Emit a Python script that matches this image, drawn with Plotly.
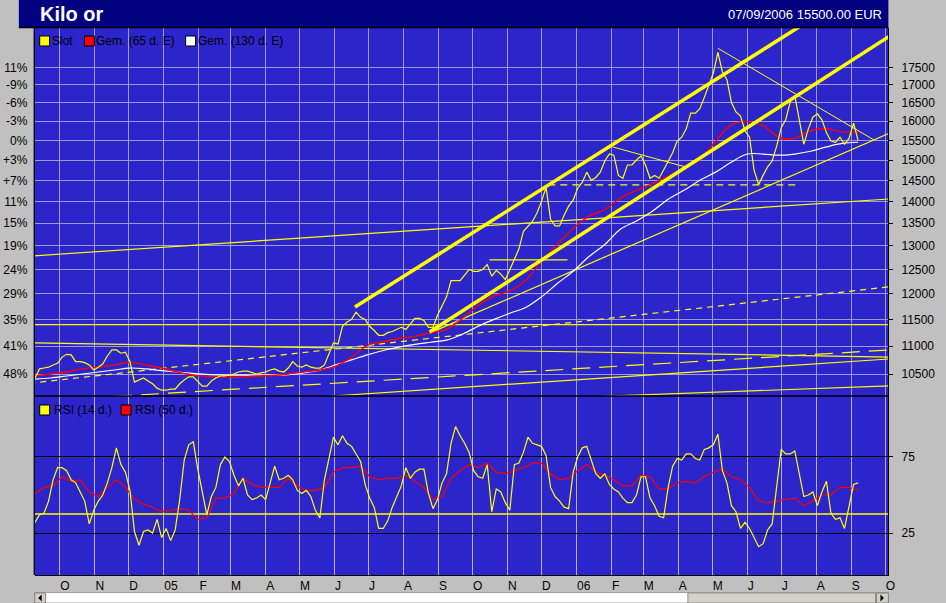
import numpy as np
import pandas as pd
import plotly.graph_objects as go

W, H = 946, 603

# ---------------- data ----------------
price_dates = pd.date_range("2004-09-09", periods=183, freq="4D")
price = [
    10430, 10590, 10605, 10620, 10660, 10690, 10800, 10850, 10840, 10720,
    10720, 10700, 10660, 10570, 10620, 10680, 10820, 10930, 10930, 10870,
    10890, 10720, 10360, 10395, 10430, 10380, 10330, 10255, 10220, 10220,
    10240, 10240, 10330, 10395, 10450, 10450, 10360, 10290, 10290, 10380,
    10430, 10465, 10465, 10480, 10500, 10535, 10550, 10550, 10520, 10500,
    10520, 10535, 10570, 10590, 10550, 10535, 10605, 10720, 10640, 10620,
    10660, 10620, 10605, 10605, 10660, 10870, 11060, 11040, 11370, 11450,
    11500, 11640, 11540, 11500, 11370, 11290, 11200, 11200, 11250, 11270,
    11310, 11350, 11310, 11420, 11520, 11520, 11480, 11350, 11350, 11580,
    11750, 11940, 12270, 12270, 12270, 12380, 12500, 12460, 12460, 12500,
    12600, 12360, 12480, 12400, 12290, 12500, 12710, 12930, 13320, 13420,
    13540, 13730, 14000, 14330, 13590, 13440, 13440, 13680, 13890, 14030,
    14310, 14450, 14700, 14500, 14570, 14700, 14975, 15150, 15120, 14620,
    14550, 14875, 14875, 15000, 15100, 14875, 14550, 14620, 14550, 14750,
    14950, 15180, 15480, 15580, 15800, 16220, 16220, 16340, 16650, 16980,
    17340, 17950, 17370, 17150, 16510, 16250, 16140, 15750, 15580, 14750,
    14400, 14620, 14830, 14975, 15350, 15830, 16040, 16530, 16700, 16040,
    15400, 15800, 16110, 16200, 16040, 15700, 15480, 15450, 15580, 15400,
    15550, 15950, 15500,
]
rsi14 = [
    32, 37, 38, 46, 60, 68, 68, 66, 60, 58,
    52, 46, 31, 40, 46, 50, 58, 68, 81, 70,
    65, 53, 26, 17, 26, 27, 25, 34, 22, 28,
    20, 27, 47, 73, 83, 85, 67, 52, 37, 49,
    55, 70, 75, 72, 63, 56, 61, 50, 47, 48,
    50, 47, 58, 69, 60, 61, 63, 60, 53, 51,
    53, 49, 40, 35, 60, 74, 88, 83, 89, 84,
    82, 77, 72, 57, 48, 42, 28, 28, 33, 42,
    49, 56, 68, 61, 65, 67, 67, 51, 41, 47,
    58, 64, 84, 95, 89, 84, 78, 66, 62, 61,
    70, 39, 54, 52, 45, 40, 70, 71, 78, 88,
    84, 83, 82, 76, 55, 49, 46, 42, 41, 65,
    75, 81, 82, 73, 64, 61, 64, 57, 54, 52,
    48, 45, 45, 50, 62, 62, 48, 43, 36, 35,
    55, 69, 74, 73, 77, 77, 74, 73, 80, 81,
    83, 90, 66, 58, 43, 39, 28, 32, 28, 22,
    16, 18, 27, 31, 55, 80, 77, 77, 79, 65,
    49, 50, 52, 43, 52, 59, 38, 34, 35, 28,
    42, 57, 58,
]
rsi50_dates = pd.date_range("2004-09-09", periods=92, freq="8D")
rsi50 = [
    51, 55, 56, 62, 59, 60, 52, 49, 55, 60,
    55, 47, 44, 42, 39, 40, 41, 40, 34, 35,
    48, 48, 51, 61, 57, 55, 55, 55, 61, 56,
    53, 53, 55, 65, 68, 68, 69, 62, 60, 61,
    61, 63, 59, 55, 47, 49, 61, 66, 70, 68,
    71, 65, 64, 66, 68, 71, 71, 64, 60, 61,
    66, 70, 65, 63, 60, 56, 56, 63, 62, 54,
    54, 58, 59, 58, 62, 65, 67, 62, 60, 55,
    46, 45, 46, 47, 48, 43, 46, 50, 50, 55,
    55, 53,
]
ma_dates = pd.date_range("2004-09-09", periods=53, freq="14D")
ma65 = [
    10465, 10500, 10535, 10590, 10620, 10660, 10710, 10660, 10605, 10535,
    10480, 10455, 10445, 10445, 10465, 10475, 10500, 10535, 10570, 10640,
    10800, 11015, 11080, 11140, 11180, 11250, 11310, 11520, 11770, 11960,
    12060, 12270, 12670, 13030, 13380, 13660, 13810, 14080, 14260, 14420,
    14600, 14800, 15000, 15480, 15910, 15990, 15880, 15580, 15550, 15750,
    15800, 15720, 15720,
]
ma130 = [
    10410, 10430, 10465, 10500, 10535, 10570, 10605, 10590, 10560, 10535,
    10510, 10490, 10480, 10480, 10480, 10480, 10490, 10520, 10570, 10660,
    10750, 10840, 10920, 10980, 11030, 11070, 11110, 11220, 11370, 11500,
    11620, 11730, 11940, 12210, 12460, 12770, 13030, 13370, 13550, 13770,
    14050, 14260, 14500, 14700, 14950, 15150, 15150, 15120, 15150, 15220,
    15330, 15420, 15450,
]

month_ticks = pd.date_range("2004-10-01", "2006-10-01", freq="MS")
month_labels = ["O", "N", "D", "05", "F", "M", "A", "M", "J", "J", "A", "S",
                "O", "N", "D", "06", "F", "M", "A", "M", "J", "J", "A", "S", "O"]
price_ticks = [10500, 11000, 11500, 12000, 12500, 13000, 13500, 14000,
               14500, 15000, 15500, 16000, 16500, 17000, 17500]
pct_labels = ["48%", "41%", "35%", "29%", "24%", "19%", "15%", "11%",
              "+7%", "+3%", "0%", "-3%", "-6%", "-9%", "11%"]
rsi_ticks = [25, 75]
rsi_level = [37.5, 37.5]
full_span = ["2004-09-04", "2006-10-08"]

# user-drawn lines on the price panel (dates, prices)
chan_top_d, chan_top_p = ["2005-06-19", "2006-07-30"], [11740, 19020]
chan_low_d, chan_low_p = ["2005-08-24", "2006-10-08"], [11260, 18510]
may_res_d, may_res_p = ["2006-05-06", "2006-09-21"], [18070, 15510]
support_d, support_p = ["2005-08-24", "2006-10-08"], [11240, 15725]
feb_res_d, feb_res_p = ["2006-02-02", "2006-04-07"], [15330, 14830]
dec_lvl_d, dec_lvl_p = ["2005-12-07", "2006-07-14"], [14390, 14390]
oct_lvl_d, oct_lvl_p = ["2005-10-16", "2005-12-24"], [12700, 12700]
lineA_p = [12780, 14062]
lineB_p = [11400, 11400]
lineC_p = [11060, 10800]
lineD_p = [10338, 12151]
lineF_d, lineF_p = ["2004-11-18", "2006-10-08"], [10115, 10934]
lineG_d, lineG_p = ["2005-05-27", "2006-10-08"], [10118, 10771]
lineH_d, lineH_p = ["2006-01-24", "2006-10-08"], [10118, 10296]

# ---------------- style ----------------
FONT = "Liberation Sans, Arial, sans-serif"
BLUE = "#2d25cc"
GRID = "#9c9cdc"
GRID2 = "#b4b4e6"
YEL = "#ffff00"
PAD = "\u00a0\u2009"   # small gap between right-hand ticks and their labels


def px(x):
    return x / W


def py(y):
    return 1 - y / H


fig = go.Figure()


def tline(d, p, width=1.0, dash="solid", color=YEL, ax="y"):
    fig.add_trace(go.Scatter(x=d, y=p, mode="lines", xaxis="x", yaxis=ax,
                             line=dict(color=color, width=width, dash=dash),
                             hoverinfo="skip", showlegend=False))


# invisible trace so the left percentage axis is rendered
fig.add_trace(go.Scatter(x=price_dates, y=price, mode="lines", xaxis="x", yaxis="y3",
                         line=dict(width=0, color="rgba(0,0,0,0)"), hoverinfo="skip",
                         showlegend=False))

tline(full_span, lineA_p, 1.2)
tline(full_span, lineB_p, 1.2)
tline(full_span, lineC_p, 1.2)
tline(full_span, lineD_p, 1.2, dash="6px,5px")
tline(lineF_d, lineF_p, 1.2, dash="18px,9px")
tline(lineG_d, lineG_p, 1.2)
tline(lineH_d, lineH_p, 1.2)
tline(oct_lvl_d, oct_lvl_p, 1.2)
tline(dec_lvl_d, dec_lvl_p, 1.2, dash="7px,5px")
tline(feb_res_d, feb_res_p, 1.0)
tline(may_res_d, may_res_p, 1.0)
tline(support_d, support_p, 1.2)

fig.add_trace(go.Scatter(x=ma_dates, y=ma130, mode="lines", xaxis="x", yaxis="y",
                         line=dict(color="#ffffff", width=1.2, shape="spline"),
                         hoverinfo="skip", showlegend=False))
fig.add_trace(go.Scatter(x=ma_dates, y=ma65, mode="lines", xaxis="x", yaxis="y",
                         line=dict(color="#ff0000", width=1.4, shape="spline"),
                         hoverinfo="skip", showlegend=False))
fig.add_trace(go.Scatter(x=price_dates, y=price, mode="lines", xaxis="x", yaxis="y",
                         line=dict(color=YEL, width=1.2),
                         hoverinfo="skip", showlegend=False))

tline(chan_top_d, chan_top_p, 3.5)
tline(chan_low_d, chan_low_p, 3.5)

# RSI panel
fig.add_trace(go.Scatter(x=full_span, y=rsi_level, mode="lines", xaxis="x2", yaxis="y2",
                         line=dict(color=YEL, width=1.5), hoverinfo="skip", showlegend=False))
fig.add_trace(go.Scatter(x=rsi50_dates, y=rsi50, mode="lines", xaxis="x2", yaxis="y2",
                         line=dict(color="#ff0000", width=1.2), hoverinfo="skip", showlegend=False))
fig.add_trace(go.Scatter(x=price_dates, y=rsi14, mode="lines", xaxis="x2", yaxis="y2",
                         line=dict(color=YEL, width=1.2), hoverinfo="skip", showlegend=False))

xrange = ["2004-09-08 19:00", "2006-10-03 19:00"]
yr = [np.log10(10122), np.log10(18691)]
dom_x = [px(35), px(895)]
dom_top = [py(396), py(28)]
dom_bot = [py(575), py(396)]
tickfont = dict(family=FONT, size=12, color="black")

fig.update_layout(
    width=W, height=H, autosize=False,
    margin=dict(l=0, r=0, t=0, b=0, pad=0),
    paper_bgcolor="#c0c0c0", plot_bgcolor=BLUE,
    showlegend=False, font=dict(family=FONT, size=12, color="black"),
    xaxis=dict(domain=dom_x, anchor="y", range=xrange, type="date",
               tickvals=month_ticks, showticklabels=False, ticks="",
               showgrid=True, gridcolor=GRID, gridwidth=1, zeroline=False, showline=False),
    yaxis=dict(domain=dom_top, anchor="x", side="right", type="log", range=yr,
               tickvals=price_ticks, ticktext=[PAD + str(v) for v in price_ticks],
               ticks="outside", ticklen=4, tickcolor="black", tickfont=tickfont,
               showgrid=True, gridcolor=GRID, gridwidth=1, zeroline=False,
               showline=True, linecolor="black", linewidth=1),
    yaxis3=dict(overlaying="y", anchor="x", side="left", type="log", range=yr,
                tickvals=price_ticks, ticktext=pct_labels,
                ticks="outside", ticklen=4, tickcolor="rgba(0,0,0,0)", tickfont=tickfont,
                showgrid=False, zeroline=False, showline=True, linecolor="black", linewidth=1),
    xaxis2=dict(domain=dom_x, anchor="y2", range=xrange, type="date",
                tickvals=month_ticks, ticktext=month_labels, ticks="",
                ticklabelposition="outside right", tickfont=tickfont,
                showgrid=True, gridcolor=GRID2, gridwidth=1, zeroline=False,
                showline=True, linecolor="black", linewidth=1),
    yaxis2=dict(domain=dom_bot, anchor="x2", side="right", range=[-2.6, 115.1],
                tickvals=rsi_ticks, ticktext=[PAD + str(v) for v in rsi_ticks],
                ticks="outside", ticklen=4, tickcolor="black", tickfont=tickfont,
                showgrid=True, gridcolor="black", gridwidth=1, zeroline=False,
                showline=True, linecolor="black", linewidth=1),
)

shapes = []
# title bar
shapes.append(dict(type="rect", xref="paper", yref="paper", x0=px(19), x1=px(895),
                   y0=py(27.5), y1=1, fillcolor="#000080", line=dict(width=0), layer="below"))
# frame lines
for (x0, y0, x1, y1) in [(19, 27.5, 895, 27.5), (34.5, 27.5, 34.5, 575),
                         (34.5, 396, 895, 396)]:
    shapes.append(dict(type="line", xref="paper", yref="paper", x0=px(x0), x1=px(x1),
                       y0=py(y0), y1=py(y1), line=dict(color="black", width=1.3), layer="above"))
# legend squares
for (x0, y0, c) in [(40, 36, YEL), (85, 36, "#ff0000"), (187, 36, "#ffffff"),
                    (40, 405, YEL), (122, 405, "#ff0000")]:
    shapes.append(dict(type="rect", xref="paper", yref="paper", x0=px(x0), x1=px(x0 + 10),
                       y0=py(y0 + 10), y1=py(y0), fillcolor=c,
                       line=dict(color="black", width=1), layer="above"))
# scrollbar
shapes.append(dict(type="rect", xref="paper", yref="paper", x0=px(35), x1=px(895),
                   y0=py(603), y1=py(592.5), fillcolor="#ffffff",
                   line=dict(color="#a0a0a0", width=1)))
for (x0, x1) in [(35, 46), (883, 895)]:
    shapes.append(dict(type="rect", xref="paper", yref="paper", x0=px(x0), x1=px(x1),
                       y0=py(603), y1=py(593), fillcolor="#d4d0c8",
                       line=dict(color="#808080", width=1)))
shapes.append(dict(type="rect", xref="paper", yref="paper", x0=px(693), x1=px(882),
                   y0=py(603), y1=py(593), fillcolor="#d4d0c8",
                   line=dict(color="#909090", width=1)))
shapes.append(dict(type="path", xref="paper", yref="paper",
                   path=f"M {px(42)},{py(594.5)} L {px(42)},{py(601.5)} L {px(38.5)},{py(598)} Z",
                   fillcolor="black", line=dict(width=0)))
shapes.append(dict(type="path", xref="paper", yref="paper",
                   path=f"M {px(887)},{py(594.5)} L {px(887)},{py(601.5)} L {px(890.5)},{py(598)} Z",
                   fillcolor="black", line=dict(width=0)))
fig.update_layout(shapes=shapes)

ann = [
    dict(text="<b>Kilo or</b>", x=px(38), y=py(14), xanchor="left", yanchor="middle",
         font=dict(family=FONT, size=20, color="white")),
    dict(text="07/09/2006 15500.00 EUR", x=px(891), y=py(14), xanchor="right", yanchor="middle",
         font=dict(family=FONT, size=13, color="white")),
    dict(text="Slot", x=px(50), y=py(41), xanchor="left", yanchor="middle"),
    dict(text="Gem. (65 d. E)", x=px(95), y=py(41), xanchor="left", yanchor="middle"),
    dict(text="Gem. (130 d. E)", x=px(197), y=py(41), xanchor="left", yanchor="middle"),
    dict(text="RSI (14 d.)", x=px(52), y=py(410), xanchor="left", yanchor="middle"),
    dict(text="RSI (50 d.)", x=px(134), y=py(410), xanchor="left", yanchor="middle"),
]
for a in ann:
    a.update(xref="paper", yref="paper", showarrow=False)
    a.setdefault("font", dict(family=FONT, size=12, color="black"))
fig.update_layout(annotations=ann)

fig.write_html("out.html", config={"displayModeBar": False},
               post_script="document.body.style.margin='0';document.body.style.overflow='hidden';")
